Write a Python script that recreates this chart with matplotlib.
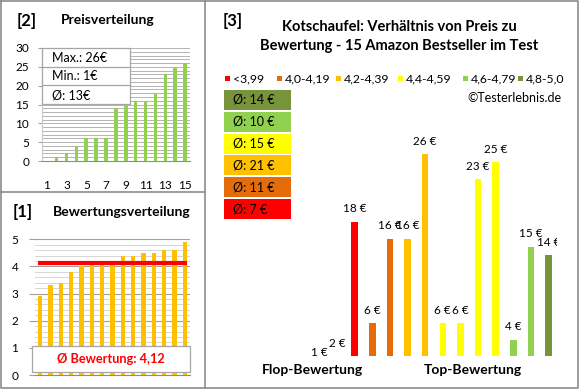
import numpy as np
import matplotlib
matplotlib.use("Agg")
import matplotlib.pyplot as plt
from matplotlib.patches import Rectangle
from matplotlib.lines import Line2D

plt.rcParams['font.family'] = ['Lato', 'DejaVu Sans']

# ---------------- data ----------------
# products ordered by rating (ascending); price NaN = no price available
ratings = [2.9, 3.3, 3.4, 3.8, 4.0, 4.1, 4.2, 4.2, 4.4, 4.4, 4.5, 4.5, 4.6, 4.6, 4.9]
prices = [np.nan, 1, 2, 18, 6, 16, 16, 26, 6, 6, 23, 25, 4, 15, 14]
bin_labels = ['<3,99', '4,0-4,19', '4,2-4,39', '4,4-4,59', '4,6-4,79', '4,8-5,0']
bin_edges = [4.0, 4.2, 4.4, 4.6, 4.8]
bin_colors = ['#FF0000', '#E46C0A', '#FFC000', '#FFFF00', '#92D050', '#77933C']
price_ticks = [1, 3, 5, 7, 9, 11, 13, 15]

W, H = 580, 390
fig = plt.figure(figsize=(W / 100, H / 100), dpi=100)


def fx(x):
    return x / W


def fy(y):
    return 1 - y / H


def ax_rect(l, t, r, b):
    return [l / W, 1 - b / H, (r - l) / W, (b - t) / H]


def fig_box(l, t, r, b, **kw):
    fig.add_artist(Rectangle((fx(l), fy(b)), (r - l) / W, (b - t) / H,
                             transform=fig.transFigure, **kw))


def fig_line(xs, ys, **kw):
    fig.add_artist(Line2D([fx(v) for v in xs], [fy(v) for v in ys],
                          transform=fig.transFigure, **kw))


prices_arr = np.array(prices, dtype=float)
valid = ~np.isnan(prices_arr)
cat = np.digitize(ratings, bin_edges)

# ---------------- panel [2] Preisverteilung ----------------
sorted_prices = sorted(prices, key=lambda v: -np.inf if np.isnan(v) else v)
ax2 = fig.add_axes(ax_rect(41.8, 48, 190, 161))
xpos = np.arange(1, len(sorted_prices) + 1)
sp = np.array(sorted_prices, dtype=float)
m = ~np.isnan(sp)
ax2.bar(xpos[m], sp[m], width=0.36, color='#92D050', zorder=3)
ax2.set_xlim(0.5, len(sp) + 0.5)
ax2.set_ylim(0, 30)
ax2.set_yticks(range(0, 31, 5))
ax2.set_yticks(range(0, 31), minor=True)
ax2.set_xticks(price_ticks)
ax2.grid(axis='y', which='both', color='#B4B4B4', lw=0.7)
ax2.set_axisbelow(True)
ax2.tick_params(axis='x', length=0, pad=14, labelsize=8.5)
ax2.tick_params(axis='y', which='major', length=3, color='#A0A0A0', pad=6, labelsize=8.5)
ax2.tick_params(axis='y', which='minor', length=0)
for s in ['top', 'right']:
    ax2.spines[s].set_visible(False)
ax2.spines['left'].set_color('#C8C8C8')
ax2.spines['bottom'].set_color('#8C8C8C')

pmax, pmin, pmean = np.nanmax(prices_arr), np.nanmin(prices_arr), np.nanmean(prices_arr)
fig_box(41.8, 48, 130, 104.3, facecolor='white', edgecolor='#A6A6A6', lw=0.9, zorder=5)
fig_line([41.8, 130], [66.7, 66.7], color='#A6A6A6', lw=0.9, zorder=6)
fig_line([41.8, 130], [85, 85], color='#A6A6A6', lw=0.9, zorder=6)
for yy, s in [(58, f"Max.: {pmax:.0f}€"), (76.5, f"Min.: {pmin:.0f}€"),
              (95, f"Ø: {np.floor(pmean + 0.5):.0f}€")]:
    fig.text(fx(51.5), fy(yy), s, fontsize=9, va='center', ha='left', zorder=7)

fig.text(fx(17), fy(21), "[2]", fontsize=12, fontweight='bold', va='center', ha='left')
fig.text(fx(108), fy(20), "Preisverteilung", fontsize=10, fontweight='bold', va='center', ha='center')

# ---------------- panel [1] Bewertungsverteilung ----------------
sorted_r = sorted(ratings)
ax1 = fig.add_axes(ax_rect(35, 239.3, 190, 375))
xr = np.arange(1, len(sorted_r) + 1)
ax1.bar(xr, sorted_r, width=0.4, color='#FFC000', zorder=3)
ax1.set_xlim(0.5, len(sorted_r) + 0.5)
ax1.set_ylim(0, 5)
ax1.set_yticks(range(0, 6))
ax1.set_yticks(np.arange(0, 5.01, 0.2), minor=True)
ax1.set_xticks([])
ax1.grid(axis='y', which='major', color='#A0A0A0', lw=0.8)
ax1.grid(axis='y', which='minor', color='#D6D6D6', lw=0.7)
ax1.set_axisbelow(True)
ax1.tick_params(axis='y', which='major', length=4, color='#A0A0A0', pad=8, labelsize=8.5)
ax1.tick_params(axis='y', which='minor', length=0)
for s in ['top', 'right', 'left']:
    ax1.spines[s].set_visible(False)
ax1.spines['bottom'].set_color('#8C8C8C')
avg_r = float(np.mean(ratings))
ax1.plot([xr[0] - 0.2, xr[-1] + 0.2], [avg_r, avg_r], color='#FF0000', lw=3,
         solid_capstyle='butt', zorder=6)
ax1.add_patch(Rectangle((0.2, 0.1), len(sorted_r) + 0.3, 0.97, facecolor='white',
                        edgecolor='#A6A6A6', lw=0.9, zorder=5, clip_on=False))
ax1.text((0.2 + len(sorted_r) + 0.5) / 2, 0.58, f"Ø Bewertung: {avg_r:.2f}".replace('.', ','),
         color='#FF0000', fontsize=9.2, fontweight='bold', ha='center', va='center', zorder=7)

fig.text(fx(13), fy(212), "[1]", fontsize=12, fontweight='bold', va='center', ha='left')
fig.text(fx(122), fy(212), "Bewertungsverteilung", fontsize=10, fontweight='bold',
         va='center', ha='center')

# ---------------- panel [3] Preis vs Bewertung ----------------
ax3 = fig.add_axes(ax_rect(293, 130, 557.3, 355.7))
idx = np.arange(len(prices))
cols = [bin_colors[c] for c in cat]
ax3.bar(idx[valid], prices_arr[valid], width=0.37,
        color=[c for c, v in zip(cols, valid) if v], zorder=3)
ax3.set_xlim(-0.5, len(prices) - 0.5)
ax3.set_ylim(2.14, 28.84)
ax3.axis('off')
for i in idx[valid]:
    ann = ax3.annotate(f"{prices_arr[i]:.0f} €", (i, prices_arr[i]), xytext=(0, 13),
                       textcoords='offset pixels', ha='center', va='center', fontsize=8.5,
                       annotation_clip=False)
    ann.set_clip_on(True)
    ann.set_clip_path(ax3.patch)

fig.text(fx(223), fy(21), "[3]", fontsize=12, fontweight='bold', va='center', ha='left')
fig.text(fx(399.5), fy(27), "Kotschaufel: Verhältnis von Preis zu", fontsize=10.5,
         fontweight='bold', va='center', ha='center')
fig.text(fx(399.5), fy(46), "Bewertung - 15 Amazon Bestseller im Test", fontsize=10.5,
         fontweight='bold', va='center', ha='center')

leg_sq_x = [225, 276.7, 336, 397.7, 463, 518.3]
for k, (lab, col) in enumerate(zip(bin_labels, bin_colors)):
    fig_box(leg_sq_x[k], 76, leg_sq_x[k] + 5, 81, facecolor=col, edgecolor='none')
    fig.text(fx(leg_sq_x[k] + 8), fy(78.5), lab, fontsize=8.8, va='center', ha='left')

fig.text(fx(562), fy(98), "©Testerlebnis.de", fontsize=9, va='center', ha='right')

# average price boxes, top = best category
for j, k in enumerate(range(len(bin_labels) - 1, -1, -1)):
    sel = (cat == k) & valid
    mval = np.floor(prices_arr[sel].mean() + 0.5)
    top = 90 + 21.8 * j
    fig_box(224, top, 291, top + 20, facecolor=bin_colors[k], edgecolor='none')
    fig.text(fx(233), fy(top + 10), f"Ø: {mval:.0f} €", fontsize=9, va='center', ha='left')

fig.text(fx(312), fy(370), "Flop-Bewertung", fontsize=10, fontweight='bold', va='center', ha='center')
fig.text(fx(473), fy(370), "Top-Bewertung", fontsize=10, fontweight='bold', va='center', ha='center')

# ---------------- panel borders ----------------
bc = '#8C8C8C'
fig_line([1, 578, 578, 1, 1], [1, 1, 388, 388, 1], color=bc, lw=1.2)
fig_line([205, 205], [1, 388], color=bc, lw=1.2)
fig_line([1, 205], [192, 192], color=bc, lw=1.2)

fig.savefig("out.png", dpi=100)
